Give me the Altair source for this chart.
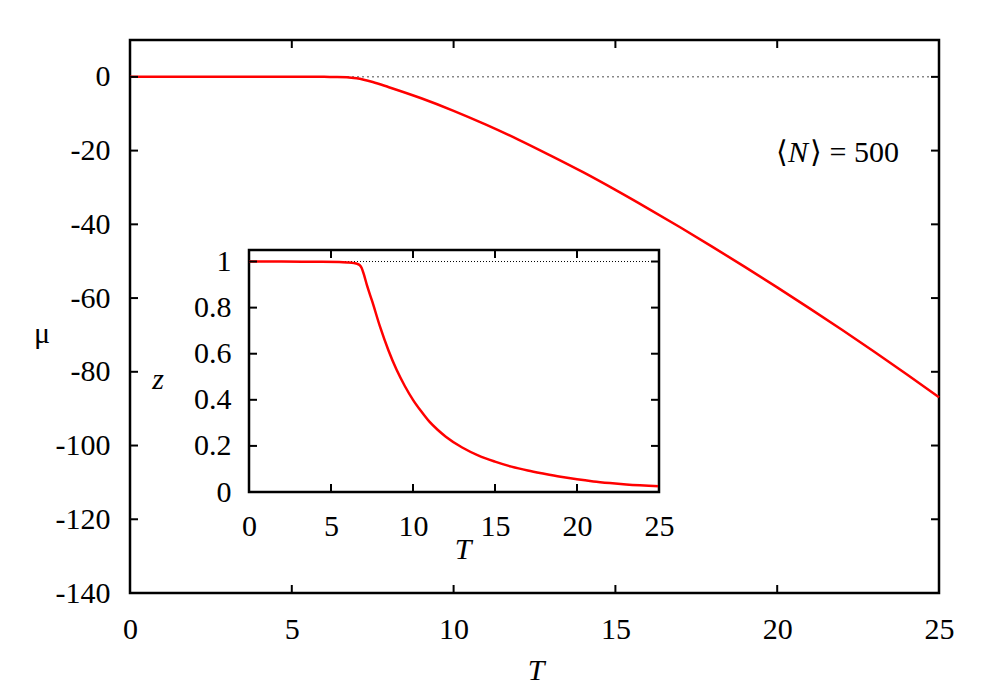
import altair as alt
import pandas as pd

# ---- data ----
T_main = [0, 2, 4, 6, 6.4, 6.7, 7, 7.5, 8, 9, 10, 11, 12, 13, 14, 15, 16, 17, 18, 19, 20, 21, 22, 23, 24, 25]
mu_main = [0, 0, 0, 0, -0.02, -0.1, -0.4, -1.4, -2.8, -5.8, -9.2, -12.95, -17.0, -21.35, -25.85, -30.65,
           -35.65, -40.8, -46.1, -51.55, -57.1, -62.8, -68.6, -74.55, -80.65, -86.9]

T_inset = [0, 2, 4, 5.5, 6.0, 6.4, 6.6, 6.75, 6.87, 7.0, 7.2, 7.5, 8, 8.5, 9, 9.5, 10, 10.5, 11, 11.5, 12,
           13, 14, 15, 16, 17, 18, 19, 20, 21, 22, 23, 25]
z_inset = [1.0, 1.0, 0.999, 0.998, 0.996, 0.993, 0.99, 0.984, 0.972, 0.945, 0.895, 0.83, 0.715, 0.615, 0.53,
           0.46, 0.4, 0.35, 0.305, 0.27, 0.24, 0.193, 0.158, 0.132, 0.11, 0.093, 0.079, 0.066, 0.055, 0.046,
           0.039, 0.033, 0.025]

x_ticks = [0, 5, 10, 15, 20, 25]
mu_ticks = [0, -20, -40, -60, -80, -100, -120, -140]
z_ticks = [0, 0.2, 0.4, 0.6, 0.8, 1]

mu_domain = [-140, 10]
T_domain = [0, 25]
z_domain = [0, 1.05]
ref_mu = [0]
ref_z = [1]

# ---- layout ----
W, H = 809, 553
IX0, IX1, IY0, IY1 = 119, 529, 452, 210
TK = 8
FONT = "'Times New Roman', 'Liberation Serif', Times, serif"
FS = 30

df_main = pd.DataFrame({"T": T_main, "mu": mu_main})
df_in = pd.DataFrame({"T": T_inset, "z": z_inset})
df_xt = pd.DataFrame({"T": x_ticks})
df_mt = pd.DataFrame({"mu": mu_ticks})
df_zt = pd.DataFrame({"z": z_ticks})
df_ref = pd.DataFrame({"mu": ref_mu})
df_zref = pd.DataFrame({"T0": [T_domain[0]], "T1": [T_domain[1]], "z": ref_z})
df_box = pd.DataFrame({"T0": [T_domain[0]], "T1": [T_domain[1]], "z0": [z_domain[0]], "z1": [z_domain[1]]})
one = pd.DataFrame({"a": [0]})

xs_main = alt.Scale(domain=T_domain, nice=False, zero=False)
ys_main = alt.Scale(domain=mu_domain, nice=False, zero=False)
xs_in = alt.Scale(domain=T_domain, range=[IX0, IX1], nice=False, zero=False)
ys_in = alt.Scale(domain=z_domain, range=[IY0, IY1], nice=False, zero=False)

axis_common = dict(tickSize=0, domain=False, grid=False, title=None,
                   labelFont=FONT, labelFontSize=FS, labelColor="black",
                   labelFlush=False, labelOverlap=False, labelBound=False)

main_line = alt.Chart(df_main).mark_line(color="#ff0000", strokeWidth=2.5, interpolate="monotone").encode(
    x=alt.X("T:Q", scale=xs_main,
            axis=alt.Axis(orient="bottom", values=x_ticks, labelPadding=21, **axis_common)),
    y=alt.Y("mu:Q", scale=ys_main,
            axis=alt.Axis(orient="left", values=mu_ticks, labelPadding=20,
                          labelExpr="datum.value + ''", **axis_common)),
)

zero_line = alt.Chart(df_ref).mark_rule(color="#888888", strokeWidth=1.5, strokeDash=[2, 3]).encode(
    y=alt.Y("mu:Q", scale=ys_main, axis=None)
)

mt_bottom = alt.Chart(df_xt).mark_rule(color="black", strokeWidth=2).encode(
    x=alt.X("T:Q", scale=xs_main, axis=None), y=alt.value(H), y2=alt.value(H - TK))
mt_top = alt.Chart(df_xt).mark_rule(color="black", strokeWidth=2).encode(
    x=alt.X("T:Q", scale=xs_main, axis=None), y=alt.value(0), y2=alt.value(TK))
mt_left = alt.Chart(df_mt).mark_rule(color="black", strokeWidth=2).encode(
    y=alt.Y("mu:Q", scale=ys_main, axis=None), x=alt.value(0), x2=alt.value(TK))
mt_right = alt.Chart(df_mt).mark_rule(color="black", strokeWidth=2).encode(
    y=alt.Y("mu:Q", scale=ys_main, axis=None), x=alt.value(W), x2=alt.value(W - TK))

box = alt.Chart(df_box).mark_rect(fill="white", stroke="black", strokeWidth=2.5).encode(
    x=alt.X("T0:Q", scale=xs_in, axis=None), x2="T1:Q",
    y=alt.Y("z0:Q", scale=ys_in, axis=None), y2="z1:Q")

z_ref = alt.Chart(df_zref).mark_rule(color="black", strokeWidth=1, strokeDash=[1, 2]).encode(
    x=alt.X("T0:Q", scale=xs_in, axis=None), x2="T1:Q",
    y=alt.Y("z:Q", scale=ys_in, axis=None))

in_line = alt.Chart(df_in).mark_line(color="#ff0000", strokeWidth=2.5, interpolate="monotone").encode(
    x=alt.X("T:Q", scale=xs_in,
            axis=alt.Axis(orient="bottom", offset=-(H - IY0), values=x_ticks, labelPadding=19, **axis_common)),
    y=alt.Y("z:Q", scale=ys_in,
            axis=alt.Axis(orient="left", offset=-IX0, values=z_ticks, labelPadding=18,
                          format="~g", **axis_common)),
)

it_bottom = alt.Chart(df_xt).mark_rule(color="black", strokeWidth=2).encode(
    x=alt.X("T:Q", scale=xs_in, axis=None), y=alt.value(IY0), y2=alt.value(IY0 - TK))
it_top = alt.Chart(df_xt).mark_rule(color="black", strokeWidth=2).encode(
    x=alt.X("T:Q", scale=xs_in, axis=None), y=alt.value(IY1), y2=alt.value(IY1 + TK))
it_left = alt.Chart(df_zt).mark_rule(color="black", strokeWidth=2).encode(
    y=alt.Y("z:Q", scale=ys_in, axis=None), x=alt.value(IX0), x2=alt.value(IX0 + TK))
it_right = alt.Chart(df_zt).mark_rule(color="black", strokeWidth=2).encode(
    y=alt.Y("z:Q", scale=ys_in, axis=None), x=alt.value(IX1), x2=alt.value(IX1 - TK))


def label(txt, x, y, italic=False, align="center", baseline="alphabetic"):
    return alt.Chart(one).mark_text(
        text=txt, font=FONT, fontSize=FS, color="black", align=align, baseline=baseline,
        fontStyle="italic" if italic else "normal"
    ).encode(x=alt.value(x), y=alt.value(y))


t_mu = label("μ", -88, 303)
t_T = label("T", 406, 640, italic=True)
t_z = label("z", 28, 349, italic=True)
t_Ti = label("T", 333, 519, italic=True)
n1 = label("⟨", 658, 122, align="right")
n2 = label("N", 658, 122, italic=True, align="left")
n3 = label("⟩ = 500", 680, 122, align="left")

chart = alt.layer(
    zero_line, main_line, mt_bottom, mt_top, mt_left, mt_right,
    box, z_ref, in_line, it_bottom, it_top, it_left, it_right,
    t_mu, t_T, t_z, t_Ti, n1, n2, n3,
).resolve_scale(x="independent", y="independent").properties(
    width=W, height=H, autosize="none",
    padding={"left": 122, "top": 32, "right": 53, "bottom": 100},
    background="white",
).configure_view(stroke="black", strokeWidth=2.5)

chart.save("out.html", embed_options={"renderer": "svg", "actions": False})
